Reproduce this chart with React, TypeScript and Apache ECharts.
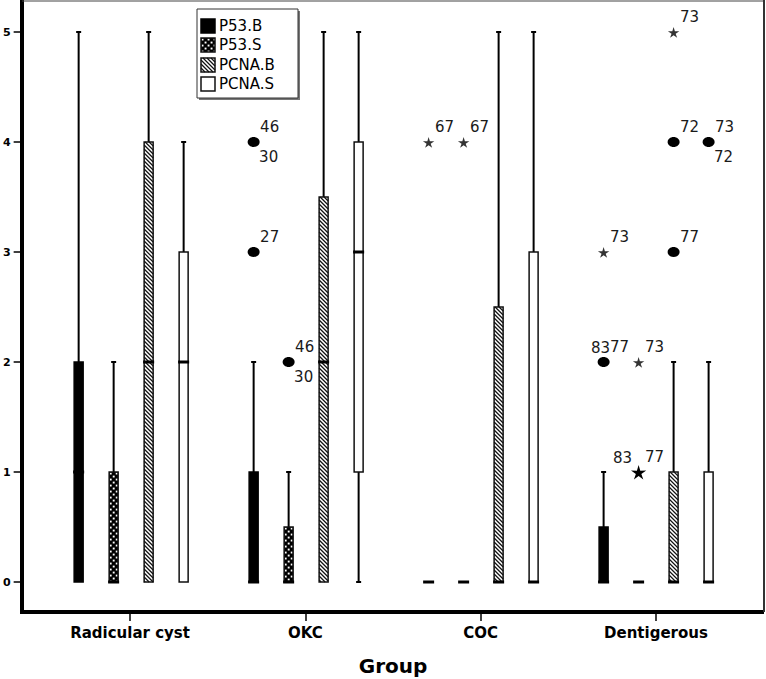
import React, { useEffect, useRef } from 'react';
import * as echarts from 'echarts';

const groups = ['Radicular cyst', 'OKC', 'COC', 'Dentigerous'];
const variables = ['P53.B', 'P53.S', 'PCNA.B', 'PCNA.S'];

// [min, q1, median, q3, max] for each group
const p53B = [[0, 0, 1, 2, 5], [0, 0, 0, 1, 2], [0, 0, 0, 0, 0], [0, 0, 0, 0.5, 1]];
const p53S = [[0, 0, 0, 1, 2], [0, 0, 0, 0.5, 1], [0, 0, 0, 0, 0], [0, 0, 0, 0, 0]];
const pcnaB = [[0, 0, 2, 4, 5], [0, 0, 2, 3.5, 5], [0, 0, 0, 2.5, 5], [0, 0, 0, 1, 2]];
const pcnaS = [[0, 0, 2, 3, 4], [0, 1, 3, 4, 5], [0, 0, 0, 3, 5], [0, 0, 0, 1, 2]];
const seriesValues = [p53B, p53S, pcnaB, pcnaS];

// outliers
const outlierGroup = [1, 1, 1, 2, 2, 3, 3, 3, 3, 3, 3, 3, 3];
const outlierVar = [0, 0, 1, 0, 1, 0, 0, 1, 1, 2, 2, 2, 3];
const outlierValue = [4, 3, 2, 4, 4, 3, 2, 2, 1, 5, 4, 3, 4];
const outlierKind = ['dot', 'dot', 'dot', 'star', 'star', 'star', 'dot', 'star', 'star2', 'star', 'dot', 'dot', 'dot'];
const outlierLabels = [['46', '30'], ['27'], ['46', '30'], ['67'], ['67'], ['73'], ['83', '77'], ['73'], ['83', '77'], ['73'], ['72'], ['77'], ['73', '72']];
const outlierLabelPos = [['ur', 'lr'], ['ur'], ['ur', 'lr'], ['ur'], ['ur'], ['ur'], ['u', 'ur'], ['ur'], ['ul', 'ur'], ['ur'], ['ur'], ['ur'], ['ur', 'lr']];

const fills = ['solid', 'check', 'hatch', 'white'];
const offsets = [-0.3, -0.1, 0.1, 0.3];
const labelOffset: Record<string, [number, number]> = {
  ur: [16, -15], lr: [15, 15], u: [-3, -14], ul: [-16, -14],
};
const NUM_FONT = 'DejaVu Sans';

function ln(x1: number, y1: number, x2: number, y2: number, w: number, c = '#000') {
  return { type: 'line', shape: { x1, y1, x2, y2 }, style: { stroke: c, lineWidth: w } };
}

function boxElements(x0: number, y0: number, w: number, h: number, kind: string): any[] {
  const els: any[] = [];
  const rect = (fill: string) => ({ type: 'rect', shape: { x: x0, y: y0, width: w, height: h }, style: { fill, stroke: 'none' } });
  const border = { type: 'rect', shape: { x: x0, y: y0, width: w, height: h }, style: { fill: 'none', stroke: '#111', lineWidth: 1.5 } };
  if (kind === 'solid') {
    els.push({ type: 'rect', shape: { x: x0, y: y0, width: w, height: h }, style: { fill: '#000', stroke: '#000', lineWidth: 1.5 } });
    return els;
  }
  if (kind === 'check') {
    els.push(rect('#000'));
    const pitch = 3;
    for (let r = 0; y0 + r * pitch < y0 + h - 0.8; r++) {
      for (let c = 0; x0 + c * pitch < x0 + w - 0.8; c++) {
        if ((r + c) % 2 === 0) {
          const sx = x0 + c * pitch + 0.6;
          const sy = y0 + r * pitch + 0.6;
          const ww = Math.min(1.9, x0 + w - sx);
          const hh = Math.min(1.9, y0 + h - sy);
          if (ww > 0.3 && hh > 0.3) {
            els.push({ type: 'rect', shape: { x: sx, y: sy, width: ww, height: hh }, style: { fill: '#fff' } });
          }
        }
      }
    }
    els.push(border);
    return els;
  }
  els.push(rect('#fff'));
  if (kind === 'hatch') {
    const step = 4;
    for (let c = y0 - w; c < y0 + h; c += step) {
      const xa = Math.max(x0, x0 + (y0 - c));
      const xb = Math.min(x0 + w, x0 + (y0 + h - c));
      if (xb - xa > 0.2) {
        els.push(ln(xa, c + (xa - x0), xb, c + (xb - x0), 1.2, '#111'));
      }
    }
  }
  els.push(border);
  return els;
}

function starPoints(cx: number, cy: number, R: number, r: number) {
  const pts: number[][] = [];
  for (let i = 0; i < 10; i++) {
    const a = -Math.PI / 2 + (i * Math.PI) / 5;
    const rad = i % 2 === 0 ? R : r;
    pts.push([cx + rad * Math.cos(a), cy + rad * Math.sin(a)]);
  }
  return pts;
}

const makeBoxRender = (vi: number) => (params: any, api: any) => {
  const cat = api.value(0);
  const mn = api.value(1), q1 = api.value(2), md = api.value(3), q3 = api.value(4), mx = api.value(5);
  const band = api.size([1, 0])[0];
  const cx = api.coord([cat, 0])[0] + offsets[vi] * band;
  const Y = (v: number) => api.coord([cat, v])[1];
  const hw = 4.5;
  const children: any[] = [];
  if (mx > q3) {
    children.push(ln(cx, Y(q3), cx, Y(mx), 2));
    children.push(ln(cx - 2.5, Y(mx), cx + 2.5, Y(mx), 2));
  }
  if (mn < q1) {
    children.push(ln(cx, Y(q1), cx, Y(mn), 2));
    children.push(ln(cx - 2.5, Y(mn), cx + 2.5, Y(mn), 2));
  }
  const top = Y(q3), bot = Y(q1);
  children.push(...boxElements(cx - hw, top, 2 * hw, bot - top, fills[vi]));
  children.push(ln(cx - hw - 1, Y(md), cx + hw + 1, Y(md), 3));
  return { type: 'group', children };
};

const renderOutlier = (params: any, api: any) => {
  const i = params.dataIndex;
  const cat = api.value(0);
  const vi = api.value(1);
  const v = api.value(2);
  const band = api.size([1, 0])[0];
  const p = api.coord([cat, v]);
  const cx = p[0] + offsets[vi] * band;
  const cy = p[1];
  const children: any[] = [];
  const kind = outlierKind[i];
  if (kind === 'dot') {
    children.push({ type: 'ellipse', shape: { cx, cy, rx: 6, ry: 5 }, style: { fill: '#000' } });
  } else {
    const R = kind === 'star2' ? 8 : 6;
    children.push({
      type: 'polygon',
      shape: { points: starPoints(cx, cy + 1, R, R * 0.36) },
      style: { fill: kind === 'star2' ? '#000' : '#333' },
    });
  }
  outlierLabels[i].forEach((t, k) => {
    const off = labelOffset[outlierLabelPos[i][k]];
    children.push({
      type: 'text',
      x: cx + off[0],
      y: cy + off[1],
      style: { text: t, fill: '#1a1a1a', fontSize: 15, fontFamily: NUM_FONT, align: 'center', verticalAlign: 'middle' },
    });
  });
  return { type: 'group', children };
};

function legendElements(): any[] {
  const els: any[] = [];
  const lx = 197, ly = 9, lw = 101, lh = 89;
  els.push({ type: 'rect', shape: { x: lx + 2, y: ly + 2, width: lw, height: lh }, style: { fill: '#777' } });
  els.push({ type: 'rect', shape: { x: lx, y: ly, width: lw, height: lh }, style: { fill: '#fff', stroke: '#333', lineWidth: 1 } });
  const ys = [26, 45, 65, 84];
  variables.forEach((name, i) => {
    els.push(...boxElements(201, ys[i] - 7, 14, 14, fills[i]));
    els.push({
      type: 'text', x: 219, y: ys[i],
      style: { text: name, fill: '#000', fontSize: 15, fontFamily: NUM_FONT, align: 'left', verticalAlign: 'middle' },
    });
  });
  return els;
}

export default function App() {
  const ref = useRef<HTMLDivElement>(null);
  useEffect(() => {
    if (!ref.current) return;
    const chart = echarts.init(ref.current, undefined, { renderer: 'svg' });
    const boxSeries = variables.map((name, vi) => ({
      type: 'custom',
      name,
      clip: false,
      xAxisIndex: 0,
      yAxisIndex: 0,
      renderItem: makeBoxRender(vi),
      encode: { x: 0, y: [1, 2, 3, 4, 5] },
      data: seriesValues[vi].map((vals, gi) => [gi, ...vals]),
      z: 2,
    }));
    const outlierSeries = {
      type: 'custom',
      name: 'outliers',
      clip: false,
      xAxisIndex: 0,
      yAxisIndex: 0,
      renderItem: renderOutlier,
      encode: { x: 0, y: 2 },
      data: outlierValue.map((v, i) => [outlierGroup[i], outlierVar[i], v]),
      z: 3,
    };
    const frame = [
      ln(22, 0, 22, 614, 4),
      ln(20, 612, 764, 612, 4),
      ln(22, 1, 764, 1, 1, '#444'),
      ln(764, 0, 764, 612, 2, '#333'),
    ];
    const labelFont = { fontFamily: NUM_FONT, fontWeight: 'bold', color: '#000' };
    chart.setOption({
      animation: false,
      backgroundColor: '#fff',
      grid: [
        { left: 42.4, right: 22.4, top: 32, bottom: 97 },
        { left: 42.4, right: 22.4, top: 590, bottom: 67 },
      ],
      xAxis: [
        {
          type: 'category', gridIndex: 0, data: groups,
          axisLine: { show: false }, axisTick: { show: false }, axisLabel: { show: false }, splitLine: { show: false },
        },
        {
          type: 'category', gridIndex: 1, data: groups, position: 'bottom',
          axisLine: { show: false },
          axisTick: { show: true, alignWithLabel: true, length: 9, lineStyle: { color: '#000', width: 1.5 } },
          axisLabel: { margin: 13, fontSize: 15, ...labelFont },
          splitLine: { show: false },
          name: 'Group',
          nameLocation: 'middle',
          nameGap: 44,
          nameTextStyle: { fontSize: 20, verticalAlign: 'top', ...labelFont },
        },
      ],
      yAxis: [
        {
          type: 'value', gridIndex: 0, min: 0, max: 5, interval: 1, offset: 20,
          axisLine: { show: false },
          axisTick: { show: true, length: 10, lineStyle: { color: '#000', width: 1.5 } },
          axisLabel: { margin: 13, fontSize: 11, ...labelFont },
          splitLine: { show: false },
        },
        { type: 'value', gridIndex: 1, show: false, min: 0, max: 1 },
      ],
      graphic: { elements: [...frame.map((e) => ({ ...e, z: 10 })), ...legendElements().map((e) => ({ ...e, z: 20 }))] },
      series: [...boxSeries, outlierSeries],
    });
    return () => chart.dispose();
  }, []);
  return <div ref={ref} style={{ position: 'fixed', left: 0, top: 0, width: 766, height: 679 }} />;
}
